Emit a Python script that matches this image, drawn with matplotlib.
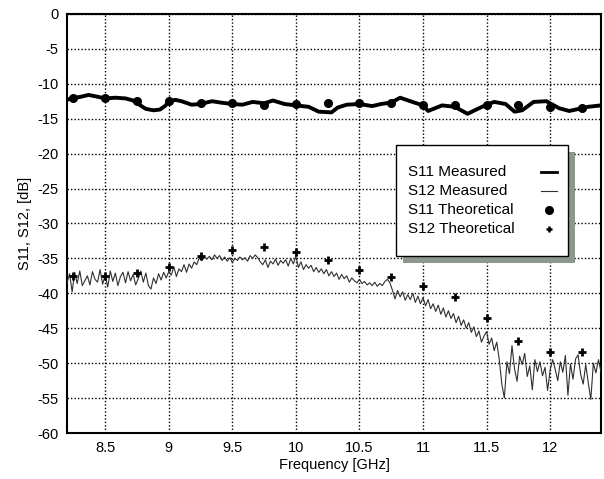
import numpy as np
import matplotlib
matplotlib.use("Agg")
import matplotlib.pyplot as plt
from matplotlib.lines import Line2D
from matplotlib.patches import Rectangle

plt.rcParams['font.family'] = ['Liberation Sans', 'DejaVu Sans']
plt.rcParams['axes.unicode_minus'] = False

# S11 measured (thick line)
s11_freq = [8.20, 8.25, 8.30, 8.37, 8.45, 8.50, 8.58, 8.66, 8.72, 8.76,
            8.82, 8.88, 8.93, 8.97, 9.00, 9.05, 9.10, 9.18, 9.25, 9.34,
            9.41, 9.50, 9.58, 9.66, 9.75, 9.82, 9.91, 10.00, 10.10, 10.18,
            10.28, 10.33, 10.40, 10.50, 10.60, 10.67, 10.75, 10.82, 10.90, 11.00,
            11.04, 11.15, 11.25, 11.35, 11.43, 11.50, 11.56, 11.65, 11.72, 11.78,
            11.87, 11.97, 12.07, 12.15, 12.25, 12.30, 12.40]
s11_meas = [-12.3, -12.0, -11.9, -11.6, -11.9, -12.1, -12.0, -12.1, -12.4, -12.9,
            -13.6, -13.8, -13.7, -13.2, -12.6, -12.3, -12.5, -13.0, -12.9, -12.5,
            -12.7, -12.9, -13.0, -12.6, -12.8, -12.4, -12.9, -13.1, -13.3, -14.0,
            -14.1, -13.4, -13.0, -12.9, -13.2, -12.9, -12.7, -12.0, -12.5, -13.1,
            -13.9, -13.1, -13.3, -14.3, -13.6, -13.0, -12.6, -12.9, -14.0, -13.8,
            -12.6, -12.5, -13.5, -13.9, -13.5, -13.3, -13.1]

# S12 measured (thin line), sampled every 0.02 GHz from 8.2 to 12.4
s12_freq = np.linspace(8.2, 12.4, 211)
s12_meas = [
    -38.5, -37.2, -39.8, -37.0, -38.6, -36.8, -38.9, -38.2, -37.5, -38.8,
    -36.9, -38.0, -38.4, -36.6, -38.7, -37.4, -39.1, -36.8, -38.3, -37.1,
    -38.9, -37.6, -37.0, -38.5, -36.9, -38.2, -37.3, -38.8, -37.9, -36.8,
    -38.4, -37.1, -38.9, -39.4, -37.8, -38.6, -37.2, -38.1, -37.0, -37.8,
    -36.9,
    -37.4, -36.2, -37.6, -36.5, -36.9, -35.9, -37.0, -35.8, -36.4, -35.5,
    -35.9, -34.9, -35.3, -34.8, -35.1,
    -34.7, -35.2, -34.5, -35.0, -34.6, -35.3, -34.8, -35.4, -34.9, -35.6,
    -35.0, -35.3, -34.8, -35.2, -34.9, -35.4, -34.6, -35.0, -34.5, -34.9,
    -35.5, -35.9, -35.2, -36.3, -35.4, -35.8, -35.1, -36.0, -35.3, -35.7,
    -35.2, -36.1, -35.0, -35.8, -34.7, -36.3, -35.5, -36.6, -35.9, -36.4,
    -36.0, -36.9, -36.3, -37.0, -36.5, -37.2, -36.6, -37.5, -36.9, -37.6,
    -37.1, -38.0, -37.3, -37.9, -37.5, -38.4, -37.8, -38.2, -38.5, -38.0,
    -38.6, -38.3, -38.8, -38.5, -38.9, -38.4, -39.0, -38.6, -38.9, -38.3,
    -38.0, -38.5, -39.6,
    -40.8, -39.6, -40.5, -39.8, -41.0, -40.2, -40.9, -40.0, -41.3, -40.4,
    -41.5, -40.6,
    -41.8, -40.9, -42.2, -41.5, -42.6, -41.7, -43.0, -42.1, -43.4, -42.5,
    -43.6, -42.9, -44.2, -43.3, -44.6, -43.8, -45.0, -44.2, -45.6, -44.8,
    -46.2, -45.4, -47.0, -46.1, -45.5, -47.3, -46.4, -48.2, -47.0, -49.5,
    -53.0, -55.0, -49.8, -51.5, -47.5, -50.8, -52.6, -49.0, -50.2, -48.6,
    -51.9, -50.4, -53.8, -49.5, -51.2, -49.8, -51.8, -50.6, -53.9, -51.0,
    -49.5, -50.9, -52.5, -49.8, -51.3, -48.9, -54.6, -50.1, -52.3, -49.4,
    -48.8, -51.6, -53.0, -50.2, -52.8, -55.2, -50.0, -51.4, -49.5, -51.2,
]

# theoretical points, every 0.25 GHz
theo_freq = [8.25, 8.5, 8.75, 9.0, 9.25, 9.5, 9.75, 10.0, 10.25, 10.5,
             10.75, 11.0, 11.25, 11.5, 11.75, 12.0, 12.25]
s11_theo = [-12.0, -12.1, -12.4, -12.5, -12.7, -12.7, -13.0, -12.9, -12.8, -12.8,
            -12.8, -13.0, -13.1, -13.0, -13.1, -13.4, -13.5]
s12_theo = [-37.5, -37.5, -37.1, -36.3, -34.7, -33.8, -33.4, -34.1, -35.3, -36.6,
            -37.7, -39.0, -40.6, -43.5, -46.8, -48.4, -48.4]

labels = ['S11 Measured', 'S12 Measured', 'S11 Theoretical', 'S12 Theoretical']

W, H = 604, 479
fig = plt.figure(figsize=(W / 100, H / 100), dpi=100)
ax = fig.add_axes([0.111, 0.096, 0.884, 0.875])

ax.plot(s12_freq, s12_meas, color='#303030', lw=0.8, zorder=3)
ax.plot(s11_freq, s11_meas, color='black', lw=2.8, zorder=4)
ax.plot(theo_freq, s11_theo, 'o', color='black', ms=5.5, zorder=5)
ax.plot(theo_freq, s12_theo, '+', color='black', ms=6, mew=2, zorder=5)

ax.set_xlim(8.2, 12.4)
ax.set_ylim(-60, 0)
ax.set_xticks([8.5, 9, 9.5, 10, 10.5, 11, 11.5, 12])
ax.set_xticklabels(['8.5', '9', '9.5', '10', '10.5', '11', '11.5', '12'])
ax.set_yticks(np.arange(-60, 1, 5))
ax.tick_params(length=0, labelsize=10.5, pad=6)
ax.grid(True, color='black', linestyle=(0, (1, 1.5)), lw=1.0)
for s in ax.spines.values():
    s.set_linewidth(1.5)

ax.set_xlabel('Frequency [GHz]', fontsize=10.5, labelpad=2)
ax.set_ylabel('S11, S12, [dB]', fontsize=10.5, labelpad=4)

# legend box drawn by hand (pixel positions from the top-left corner)
def fx(px):
    return px / W

def fy(py):
    return 1 - py / H

box_l, box_r, box_t, box_b = 396, 568, 145, 256
shadow = Rectangle((fx(box_l + 7), fy(box_b + 7)), fx(box_r - box_l), fy(box_t) - fy(box_b),
                   transform=fig.transFigure, facecolor='#8e978e', edgecolor='none', zorder=10)
frame = Rectangle((fx(box_l), fy(box_b)), fx(box_r - box_l), fy(box_t) - fy(box_b),
                  transform=fig.transFigure, facecolor='white', edgecolor='black', lw=1.0, zorder=11)
fig.add_artist(shadow)
fig.add_artist(frame)

rows = [172, 191, 210, 229]
for lab, ry in zip(labels, rows):
    fig.text(fx(408), fy(ry), lab, fontsize=11, va='center', ha='left', zorder=12)
fig.add_artist(Line2D([fx(541), fx(557)], [fy(rows[0]), fy(rows[0])], color='black', lw=2.0, zorder=12))
fig.add_artist(Line2D([fx(541), fx(557)], [fy(rows[1]), fy(rows[1])], color='#303030', lw=0.8, zorder=12))
fig.add_artist(Line2D([fx(549)], [fy(rows[2])], ls='none', marker='o', color='black', ms=5.5, zorder=12))
fig.add_artist(Line2D([fx(549)], [fy(rows[3])], ls='none', marker='+', color='black', ms=5, mew=1.8, zorder=12))

plt.savefig('out.png', dpi=100)
